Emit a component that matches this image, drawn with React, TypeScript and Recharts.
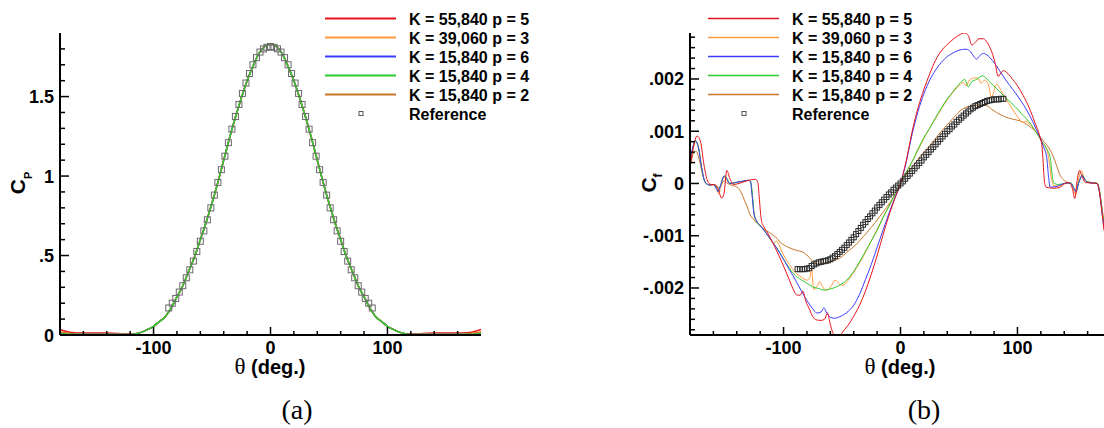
import React from "react";
import { LineChart, Line, XAxis, YAxis } from "recharts";

type P = [number, number];

// ---------- series meta ----------
const seriesNames = [
  "K = 55,840 p = 5",
  "K = 39,060 p = 3",
  "K = 15,840 p = 6",
  "K = 15,840 p = 4",
  "K = 15,840 p = 2",
];
const seriesColors = ["#e8141c", "#ff9a3c", "#3c3cff", "#2ecc2e", "#c8762a"];
const referenceName = "Reference";

// ---------- ticks ----------
const xTicks = [-160, -140, -120, -100, -80, -60, -40, -20, 0, 20, 40, 60, 80, 100, 120, 140, 160];
const xMajor = [-100, 0, 100];
const cpTicks = [0, 0.1, 0.2, 0.3, 0.4, 0.5, 0.6, 0.7, 0.8, 0.9, 1, 1.1, 1.2, 1.3, 1.4, 1.5, 1.6, 1.7, 1.8];
const cpMajor = [0, 0.5, 1, 1.5];
const cfTicks = [
  -0.0028, -0.0026, -0.0024, -0.0022, -0.002, -0.0018, -0.0016, -0.0014, -0.0012, -0.001,
  -0.0008, -0.0006, -0.0004, -0.0002, 0, 0.0002, 0.0004, 0.0006, 0.0008, 0.001,
  0.0012, 0.0014, 0.0016, 0.0018, 0.002, 0.0022, 0.0024, 0.0026, 0.0028,
];
const cfMajor = [-0.002, -0.001, 0, 0.001, 0.002];

// ---------- Cp (left) ----------
const cpCoreTheta = [
  -115, -110, -105, -100, -95, -90, -85, -80, -75, -70, -65, -60, -55, -50, -45, -40, -35, -30, -25, -20, -15, -10, -5,
  0, 5, 10, 15, 20, 25, 30, 35, 40, 45, 50, 55, 60, 65, 70, 75, 80, 85, 90, 95, 100, 105, 110, 115,
];
const cpCore = [
  0.008, 0.018, 0.035, 0.055, 0.085, 0.115, 0.17, 0.24, 0.31, 0.4, 0.49, 0.6, 0.71, 0.83, 0.96, 1.1, 1.24, 1.37, 1.49, 1.6, 1.69, 1.77, 1.815,
  1.83, 1.815, 1.77, 1.69, 1.6, 1.49, 1.37, 1.24, 1.1, 0.96, 0.83, 0.71, 0.6, 0.49, 0.4, 0.31, 0.24, 0.17, 0.115, 0.085, 0.055, 0.035, 0.018, 0.008,
];
const cpTailThetaL = [-180, -170, -160, -150, -140, -130, -120];
const cpTailThetaR = [120, 130, 140, 150, 160, 170, 180];
const cpTailRedL = [0.035, 0.016, 0.012, 0.012, 0.012, 0.01, 0.005];
const cpTailRedR = [0.005, 0.01, 0.012, 0.012, 0.012, 0.016, 0.035];
const cpTailOrangeL = [0.02, 0.008, 0.006, 0.006, 0.006, 0.005, 0.003];
const cpTailOrangeR = [0.003, 0.005, 0.006, 0.006, 0.006, 0.008, 0.02];
const cpTailBlueL = [0.012, 0.005, 0.004, 0.004, 0.004, 0.004, 0.003];
const cpTailBlueR = [0.003, 0.004, 0.004, 0.004, 0.004, 0.005, 0.012];
const cpTailGreenL = [0.008, 0.004, 0.003, 0.003, 0.003, 0.003, 0.002];
const cpTailGreenR = [0.002, 0.003, 0.003, 0.003, 0.003, 0.004, 0.008];
const cpTailBrownL = [0.015, 0.007, 0.005, 0.005, 0.005, 0.004, 0.003];
const cpTailBrownR = [0.003, 0.004, 0.005, 0.005, 0.005, 0.007, 0.015];

const cpRef: P[] = [
  [-87, 0.17], [-84, 0.2], [-81, 0.23], [-78, 0.27], [-75, 0.31], [-72, 0.36], [-69, 0.41], [-66, 0.465], [-63, 0.525], [-60, 0.59],
  [-57, 0.655], [-54, 0.725], [-51, 0.8], [-48, 0.88], [-45, 0.96], [-42, 1.04], [-39, 1.125], [-36, 1.21], [-33, 1.295], [-30, 1.375],
  [-27, 1.45], [-24, 1.52], [-21, 1.585], [-18, 1.645], [-15, 1.7], [-12, 1.745], [-9, 1.78], [-6, 1.8], [-3, 1.81], [0, 1.815],
  [3, 1.81], [6, 1.8], [9, 1.78], [12, 1.745], [15, 1.7], [18, 1.645], [21, 1.585], [24, 1.52], [27, 1.45], [30, 1.375],
  [33, 1.295], [36, 1.21], [39, 1.125], [42, 1.04], [45, 0.96], [48, 0.88], [51, 0.8], [54, 0.725], [57, 0.655], [60, 0.59],
  [63, 0.525], [66, 0.465], [69, 0.41], [72, 0.36], [75, 0.31], [78, 0.27], [81, 0.23], [84, 0.2], [87, 0.17],
];

// ---------- Cf (right), values in units of 1e-3 ----------
const cfRed: P[] = [
  [-180, 0.3], [-177, 0.7], [-174, 0.91], [-171, 0.8], [-168, 0.35], [-165, 0.05], [-162, -0.02], [-159, -0.02], [-156, -0.1], [-153, -0.28],
  [-151, -0.2], [-148.5, 0.25], [-146, 0.1], [-143, -0.02], [-138, 0.0], [-133, 0.04], [-128, 0.07], [-124, 0.08], [-122, 0.02], [-120.5, -0.35],
  [-119, -0.7], [-117, -0.82], [-114, -0.93], [-110, -1.1], [-105, -1.33], [-100, -1.58], [-95, -1.85], [-91, -2.06], [-89, -2.13], [-86, -2.14],
  [-83.5, -2.06], [-81, -2.25], [-78, -2.4], [-75, -2.55], [-72, -2.61], [-68, -2.62], [-65, -2.6], [-62.5, -2.48], [-60, -2.7], [-58, -2.85],
  [-55, -2.95], [-52, -2.93], [-50, -2.86], [-45, -2.72], [-40, -2.54], [-35, -2.33], [-30, -2.06], [-25, -1.74], [-20, -1.38], [-15, -0.99],
  [-10, -0.62], [-5, -0.3], [0, 0.0], [5, 0.45], [10, 1.0], [15, 1.45], [20, 1.8], [25, 2.1], [30, 2.36], [35, 2.54],
  [40, 2.66], [45, 2.76], [50, 2.84], [55, 2.88], [58, 2.83], [61, 2.65], [64, 2.7], [67, 2.77], [71, 2.77], [74, 2.7],
  [78, 2.52], [81, 2.3], [83.5, 2.05], [86, 2.12], [88, 2.16], [92, 2.1], [96, 1.99], [100, 1.87], [105, 1.68], [110, 1.45],
  [115, 1.16], [119, 0.91], [121, 0.7], [122, 0.4], [123, 0.05], [124.5, -0.07], [130, -0.09], [136, -0.08], [140, 0.0], [144, 0.02],
  [147, -0.1], [149, -0.29], [151, 0.05], [153, 0.25], [155, 0.15], [158, 0.02], [163, 0.01], [168, 0.0], [170, -0.15], [172, -0.5],
  [174, -0.9],
];

const cfOrange: P[] = [
  [-180, 0.35], [-177, 0.7], [-175.5, 0.8], [-173, 0.72], [-170, 0.3], [-167, 0.02], [-163, -0.03], [-160, -0.02], [-157, -0.12], [-155.5, -0.2],
  [-153.5, -0.05], [-151, 0.12], [-148.5, 0.06], [-146, 0.0], [-140, 0.02], [-135, 0.04], [-130, 0.06], [-128, 0.02], [-126.5, -0.3], [-125, -0.62],
  [-122.5, -0.74], [-117, -0.88], [-111, -1.08], [-108.5, -1.15], [-106, -1.1], [-104, -1.17], [-100, -1.37], [-95, -1.55], [-90, -1.7], [-85, -1.79],
  [-80, -1.85], [-77.5, -1.8], [-76, -1.62], [-75, -1.9], [-74, -2.03], [-71, -1.95], [-69, -1.88], [-66, -2.0], [-63, -2.04], [-59, -1.95],
  [-56, -1.85], [-52, -1.93], [-49, -1.95], [-45, -1.86], [-40, -1.7], [-35, -1.52], [-30, -1.32], [-25, -1.1], [-20, -0.88], [-15, -0.65],
  [-10, -0.44], [-5, -0.22], [0, 0.0], [5, 0.21], [10, 0.42], [15, 0.64], [20, 0.86], [25, 1.06], [30, 1.24], [35, 1.43],
  [40, 1.6], [45, 1.75], [50, 1.87], [53.5, 1.93], [56, 1.87], [59, 1.98], [63.5, 2.02], [66, 2.02], [69, 1.92], [72, 1.98],
  [75, 1.9], [77.8, 1.64], [80, 1.78], [82, 1.9], [86, 1.78], [90, 1.62], [95, 1.45], [100, 1.28], [104.8, 1.17], [107, 1.19],
  [112, 1.1], [116, 0.98], [121, 0.8], [125, 0.66], [127, 0.45], [129, 0.1], [131, -0.04], [136, -0.05], [142, 0.0], [146, 0.0],
  [148, -0.12], [150, -0.22], [152, 0.05], [154.5, 0.25], [157, 0.1], [161, 0.02], [168, 0.0], [170, -0.12], [172, -0.45], [174, -0.82],
];

const cfBlue: P[] = [
  [-180, 0.4], [-177, 0.75], [-175.5, 0.82], [-173, 0.7], [-170, 0.3], [-167, 0.02], [-163, -0.03], [-160, -0.02], [-157, -0.12], [-156, -0.16],
  [-154, -0.05], [-151, 0.14], [-149, 0.1], [-146, 0.0], [-141, 0.02], [-136, 0.04], [-131, 0.06], [-128.5, 0.05], [-127, -0.2], [-125.5, -0.55],
  [-123, -0.72], [-120, -0.8], [-115, -0.95], [-110, -1.1], [-103, -1.34], [-95, -1.65], [-89, -1.88], [-85, -2.05], [-80, -2.24], [-75, -2.4],
  [-71.5, -2.48], [-68, -2.46], [-65.5, -2.38], [-63, -2.48], [-60, -2.56], [-57, -2.58], [-52, -2.55], [-46, -2.47], [-40, -2.33], [-35, -2.12],
  [-30, -1.84], [-25, -1.55], [-20, -1.22], [-15, -0.9], [-10, -0.58], [-5, -0.28], [0, 0.0], [5, 0.42], [10, 0.95], [15, 1.38],
  [20, 1.72], [25, 1.98], [30, 2.17], [35, 2.32], [40, 2.43], [45, 2.5], [50, 2.55], [56, 2.57], [60, 2.52], [63, 2.42],
  [65, 2.38], [68, 2.45], [71, 2.49], [75, 2.44], [82, 2.25], [90, 1.98], [96, 1.8], [103, 1.58], [110, 1.32], [116, 1.04],
  [122, 0.72], [125, 0.5], [126.5, 0.15], [128, -0.07], [133, -0.06], [140, 0.0], [145, 0.01], [148, -0.08], [150, -0.16], [152.5, 0.02],
  [155.5, 0.15], [158, 0.06], [162, 0.01], [168, 0.0], [170, -0.15], [172, -0.5], [174, -0.85],
];

const cfGreen: P[] = [
  [-180, 0.4], [-177, 0.72], [-175.5, 0.82], [-173, 0.72], [-170, 0.3], [-167, 0.02], [-163, -0.03], [-160, -0.02], [-157, -0.1], [-156, -0.15],
  [-154, -0.04], [-150.5, 0.15], [-148, 0.08], [-146, 0.0], [-140, 0.02], [-135, 0.04], [-130, 0.06], [-128, 0.03], [-126.5, -0.25], [-125, -0.6],
  [-122.5, -0.74], [-117, -0.88], [-110.5, -1.09], [-105, -1.26], [-100, -1.45], [-95, -1.62], [-90, -1.76], [-85, -1.84], [-80, -1.91], [-75, -1.98],
  [-70, -2.01], [-65, -2.04], [-60, -2.02], [-55, -1.98], [-50, -1.92], [-46, -1.85], [-40, -1.68], [-35, -1.5], [-30, -1.3], [-25, -1.1],
  [-20, -0.9], [-15, -0.66], [-10, -0.44], [-5, -0.22], [0, 0.0], [5, 0.22], [10, 0.42], [15, 0.66], [20, 0.88], [25, 1.06],
  [30, 1.26], [35, 1.45], [40, 1.62], [45, 1.76], [50, 1.9], [55, 1.99], [58, 1.85], [61, 1.95], [65, 1.99], [70, 2.06],
  [72, 2.04], [76, 1.95], [82, 1.82], [90, 1.64], [98, 1.47], [105, 1.3], [110, 1.18], [116, 0.98], [121, 0.8], [125, 0.66],
  [128, 0.5], [129.5, 0.2], [131, 0.01], [135, -0.02], [140, 0.0], [146, 0.01], [148, -0.08], [150, -0.15], [152.5, 0.02], [155.5, 0.16],
  [158, 0.06], [162, 0.02], [168, 0.01], [170, -0.12], [172, -0.45], [174, -0.8],
];

const cfBrown: P[] = [
  [-180, 0.3], [-177, 0.58], [-175, 0.62], [-172, 0.45], [-169, 0.15], [-166, 0.0], [-162, -0.03], [-159, -0.02], [-156, -0.08], [-154, -0.06],
  [-151, 0.05], [-149, 0.02], [-146, -0.02], [-142, -0.05], [-139, -0.08], [-136, -0.18], [-133.5, -0.32], [-131, -0.45], [-129, -0.58], [-125, -0.7],
  [-122, -0.78], [-117.5, -0.86], [-112, -0.94], [-107, -1.02], [-103, -1.12], [-96, -1.22], [-89, -1.28], [-84, -1.31], [-80, -1.37], [-76, -1.47],
  [-73, -1.53], [-69, -1.54], [-65, -1.52], [-60, -1.5], [-55, -1.46], [-52, -1.43], [-45, -1.3], [-38, -1.17], [-32, -1.02], [-25, -0.84],
  [-18, -0.64], [-12, -0.46], [-6, -0.26], [-2, -0.09], [0, 0.0], [5, 0.17], [11, 0.34], [18, 0.55], [25, 0.72], [32, 0.92],
  [39, 1.1], [45, 1.25], [51, 1.39], [56, 1.46], [62, 1.49], [68, 1.5], [73.5, 1.49], [78, 1.42], [82, 1.36], [90, 1.27],
  [96, 1.23], [102, 1.2], [108, 1.13], [116, 0.98], [122, 0.82], [127.5, 0.66], [130.5, 0.52], [133.5, 0.34], [136, 0.18], [139, 0.08],
  [143, 0.02], [146, 0.0], [148, -0.08], [150, -0.14], [152.5, 0.02], [155, 0.14], [158, 0.05], [163, 0.02], [168, 0.0], [170, -0.12],
  [172, -0.42], [174, -0.75],
];

const cfRef: P[] = [
  [-88, -1.64], [-86, -1.64], [-84, -1.64], [-82, -1.64], [-80, -1.63], [-78, -1.62], [-76, -1.58], [-74, -1.55], [-72, -1.53], [-70, -1.51],
  [-68, -1.5], [-66, -1.49], [-64, -1.48], [-62, -1.47], [-60, -1.45], [-58, -1.42], [-56, -1.39], [-54, -1.35], [-52, -1.31], [-50, -1.27],
  [-48, -1.23], [-46, -1.18], [-44, -1.13], [-42, -1.08], [-40, -1.03], [-38, -0.97], [-36, -0.91], [-34, -0.85], [-32, -0.79], [-30, -0.74],
  [-28, -0.68], [-26, -0.63], [-24, -0.57], [-22, -0.52], [-20, -0.46], [-18, -0.41], [-16, -0.36], [-14, -0.31], [-12, -0.26], [-10, -0.21],
  [-8, -0.17], [-6, -0.12], [-4, -0.08], [-2, -0.04], [0, 0.0], [2, 0.04], [4, 0.09], [6, 0.14], [8, 0.19], [10, 0.24],
  [12, 0.29], [14, 0.34], [16, 0.39], [18, 0.44], [20, 0.5], [22, 0.55], [24, 0.6], [26, 0.65], [28, 0.7], [30, 0.75],
  [32, 0.8], [34, 0.85], [36, 0.9], [38, 0.95], [40, 1.0], [42, 1.04], [44, 1.09], [46, 1.13], [48, 1.18], [50, 1.22],
  [52, 1.26], [54, 1.3], [56, 1.34], [58, 1.38], [60, 1.42], [62, 1.45], [64, 1.48], [66, 1.5], [68, 1.52], [70, 1.54],
  [72, 1.56], [74, 1.58], [76, 1.59], [78, 1.6], [80, 1.61], [82, 1.61], [84, 1.61], [86, 1.62], [88, 1.62],
];

// ---------- build data ----------
type Pt = { x: number; y: number };
const fromArrays = (t: number[], v: number[]): Pt[] => t.map((x, i) => ({ x, y: v[i] }));
const cpSeries = (l: number[], r: number[]): Pt[] => [
  ...fromArrays(cpTailThetaL, l),
  ...fromArrays(cpCoreTheta, cpCore),
  ...fromArrays(cpTailThetaR, r),
];
const cpData: Pt[][] = [
  cpSeries(cpTailRedL, cpTailRedR),
  cpSeries(cpTailOrangeL, cpTailOrangeR),
  cpSeries(cpTailBlueL, cpTailBlueR),
  cpSeries(cpTailGreenL, cpTailGreenR),
  cpSeries(cpTailBrownL, cpTailBrownR),
];
const cpRefData: Pt[] = cpRef.map(([x, y]) => ({ x, y }));
const e3 = (arr: P[]): Pt[] => arr.map(([x, y]) => ({ x, y: y * 1e-3 }));
const cfData: Pt[][] = [e3(cfRed), e3(cfOrange), e3(cfBlue), e3(cfGreen), e3(cfBrown)];
const cfRefData: Pt[] = e3(cfRef);

// ---------- helpers ----------
const SANS = "'Liberation Sans', Arial, Helvetica, sans-serif";
const SERIF = "'Liberation Serif', 'Times New Roman', serif";
const fmt = (v: number) => (v === 0 ? "0" : String(v).replace("0.", "."));
const isMajor = (v: number, majors: number[]) => majors.some((m) => Math.abs(m - v) < 1e-9);

const makeXTick = (majors: number[]) => (props: any) => {
  const { x, y, payload } = props;
  const v = payload.value as number;
  const major = isMajor(v, majors);
  return (
    <g>
      <line x1={x} x2={x} y1={y} y2={y - (major ? 8 : 4)} stroke="#000" strokeWidth={1.5} />
      {major && (
        <text x={x} y={y + 19} textAnchor="middle" fontFamily={SANS} fontWeight="bold" fontSize={18} fill="#000">
          {fmt(v)}
        </text>
      )}
    </g>
  );
};

const makeYTick = (majors: number[]) => (props: any) => {
  const { x, y, payload } = props;
  const v = payload.value as number;
  const major = isMajor(v, majors);
  return (
    <g>
      <line x1={x} x2={x + (major ? 9 : 5)} y1={y} y2={y} stroke="#000" strokeWidth={1.5} />
      {major && (
        <text x={x - 6} y={y + 6.5} textAnchor="end" fontFamily={SANS} fontWeight="bold" fontSize={18} fill="#000">
          {fmt(v)}
        </text>
      )}
    </g>
  );
};

const makeSquare = (size: number, color: string) => (props: any) => {
  const { cx, cy, index } = props;
  if (cx == null || cy == null) return <g key={`s${index}`} />;
  return (
    <rect
      key={`s${index}`}
      x={cx - size / 2}
      y={cy - size / 2}
      width={size}
      height={size}
      fill="none"
      stroke={color}
      strokeWidth={1}
    />
  );
};

const cpOrder = [0, 1, 2, 4, 3];
const cfOrder = [4, 1, 3, 2, 0];

function LegendBlock({ lineX1, lineX2, textX, squareX, width }: { lineX1: number; lineX2: number; textX: number; squareX: number; width: number }) {
  const rows = [...seriesNames, referenceName];
  return (
    <g>
      {rows.map((name, i) => {
        const y = 18.5 + i * 19;
        return (
          <g key={name}>
            {i < seriesNames.length ? (
              <line x1={lineX1} x2={lineX2} y1={y} y2={y} stroke={seriesColors[i]} strokeWidth={width} />
            ) : (
              <rect x={squareX - 2} y={y - 2} width={4} height={4} fill="none" stroke="#555" strokeWidth={1} />
            )}
            <text x={textX} y={y + 6} fontFamily={SANS} fontWeight="bold" fontSize={16} fill="#000">
              {name}
            </text>
          </g>
        );
      })}
    </g>
  );
}

export default function App() {
  return (
    <div
      style={{
        position: "absolute",
        left: 0,
        top: 0,
        width: 1104,
        height: 428,
        background: "#fff",
        overflow: "hidden",
      }}
    >
      {/* (a) Cp */}
      <div style={{ position: "absolute", left: 0, top: 0 }}>
        <LineChart width={490} height={428} margin={{ top: 33, right: 9, bottom: 53, left: 10 }}>
          <XAxis
            type="number"
            dataKey="x"
            domain={[-180, 180]}
            ticks={xTicks}
            interval={0}
            allowDataOverflow
            height={40}
            tickSize={0}
            tickMargin={0}
            tickLine={false}
            axisLine={{ stroke: "#000", strokeWidth: 2 }}
            tick={makeXTick(xMajor)}
          />
          <YAxis
            type="number"
            dataKey="y"
            domain={[0, 1.9]}
            ticks={cpTicks}
            interval={0}
            allowDataOverflow
            width={50}
            tickSize={0}
            tickMargin={0}
            tickLine={false}
            axisLine={{ stroke: "#000", strokeWidth: 2 }}
            tick={makeYTick(cpMajor)}
          />
          {cpOrder.map((i) => (
            <Line
              key={seriesNames[i]}
              name={seriesNames[i]}
              data={cpData[i]}
              dataKey="y"
              type="monotone"
              stroke={seriesColors[i]}
              strokeWidth={1.5}
              dot={false}
              activeDot={false}
              isAnimationActive={false}
            />
          ))}
          <Line
            name={referenceName}
            data={cpRefData}
            dataKey="y"
            stroke="none"
            dot={makeSquare(6, "#6a6a6a")}
            activeDot={false}
            isAnimationActive={false}
          />
        </LineChart>
      </div>

      {/* (b) Cf */}
      <div style={{ position: "absolute", left: 600, top: 0 }}>
        <LineChart width={504} height={428} margin={{ top: 33, right: 0, bottom: 53, left: 40 }}>
          <XAxis
            type="number"
            dataKey="x"
            domain={[-180, 174]}
            ticks={xTicks}
            interval={0}
            allowDataOverflow
            height={40}
            tickSize={0}
            tickMargin={0}
            tickLine={false}
            axisLine={{ stroke: "#000", strokeWidth: 2 }}
            tick={makeXTick(xMajor)}
          />
          <YAxis
            type="number"
            dataKey="y"
            domain={[-0.0029, 0.00288]}
            ticks={cfTicks}
            interval={0}
            allowDataOverflow
            width={50}
            tickSize={0}
            tickMargin={0}
            tickLine={false}
            axisLine={{ stroke: "#000", strokeWidth: 2 }}
            tick={makeYTick(cfMajor)}
          />
          {cfOrder.map((i) => (
            <Line
              key={seriesNames[i]}
              name={seriesNames[i]}
              data={cfData[i]}
              dataKey="y"
              type="monotone"
              stroke={seriesColors[i]}
              strokeWidth={1}
              dot={false}
              activeDot={false}
              isAnimationActive={false}
            />
          ))}
          <Line
            name={referenceName}
            data={cfRefData}
            dataKey="y"
            stroke="none"
            dot={makeSquare(5, "#2a2a2a")}
            activeDot={false}
            isAnimationActive={false}
          />
        </LineChart>
      </div>

      {/* titles, legends, captions */}
      <svg width={1104} height={428} style={{ position: "absolute", left: 0, top: 0, pointerEvents: "none" }}>
        <LegendBlock lineX1={325} lineX2={396} textX={409} squareX={361} width={2} />
        <LegendBlock lineX1={708} lineX2={779} textX={792} squareX={744} width={1.3} />

        <text x={270} y={374} textAnchor="middle" fontFamily={SANS} fontWeight="bold" fontSize={20} fill="#000">
          <tspan fontFamily={SERIF} fontWeight="normal" fontSize={23}>θ</tspan>
          <tspan> (deg.)</tspan>
        </text>
        <text x={900} y={374} textAnchor="middle" fontFamily={SANS} fontWeight="bold" fontSize={20} fill="#000">
          <tspan fontFamily={SERIF} fontWeight="normal" fontSize={23}>θ</tspan>
          <tspan> (deg.)</tspan>
        </text>

        <text transform="translate(25,183) rotate(-90)" x={0} y={0} textAnchor="middle" fontFamily={SANS} fontWeight="bold" fontSize={21} fill="#000">
          C<tspan dy={7} fontSize={11}>P</tspan>
        </text>
        <text transform="translate(656,183) rotate(-90)" x={0} y={0} textAnchor="middle" fontFamily={SANS} fontWeight="bold" fontSize={21} fill="#000">
          C<tspan dy={6} fontSize={12}>f</tspan>
        </text>

        <text x={297} y={419} textAnchor="middle" fontFamily={SERIF} fontSize={28} fill="#000">(a)</text>
        <text x={924} y={419} textAnchor="middle" fontFamily={SERIF} fontSize={28} fill="#000">(b)</text>
      </svg>
    </div>
  );
}
